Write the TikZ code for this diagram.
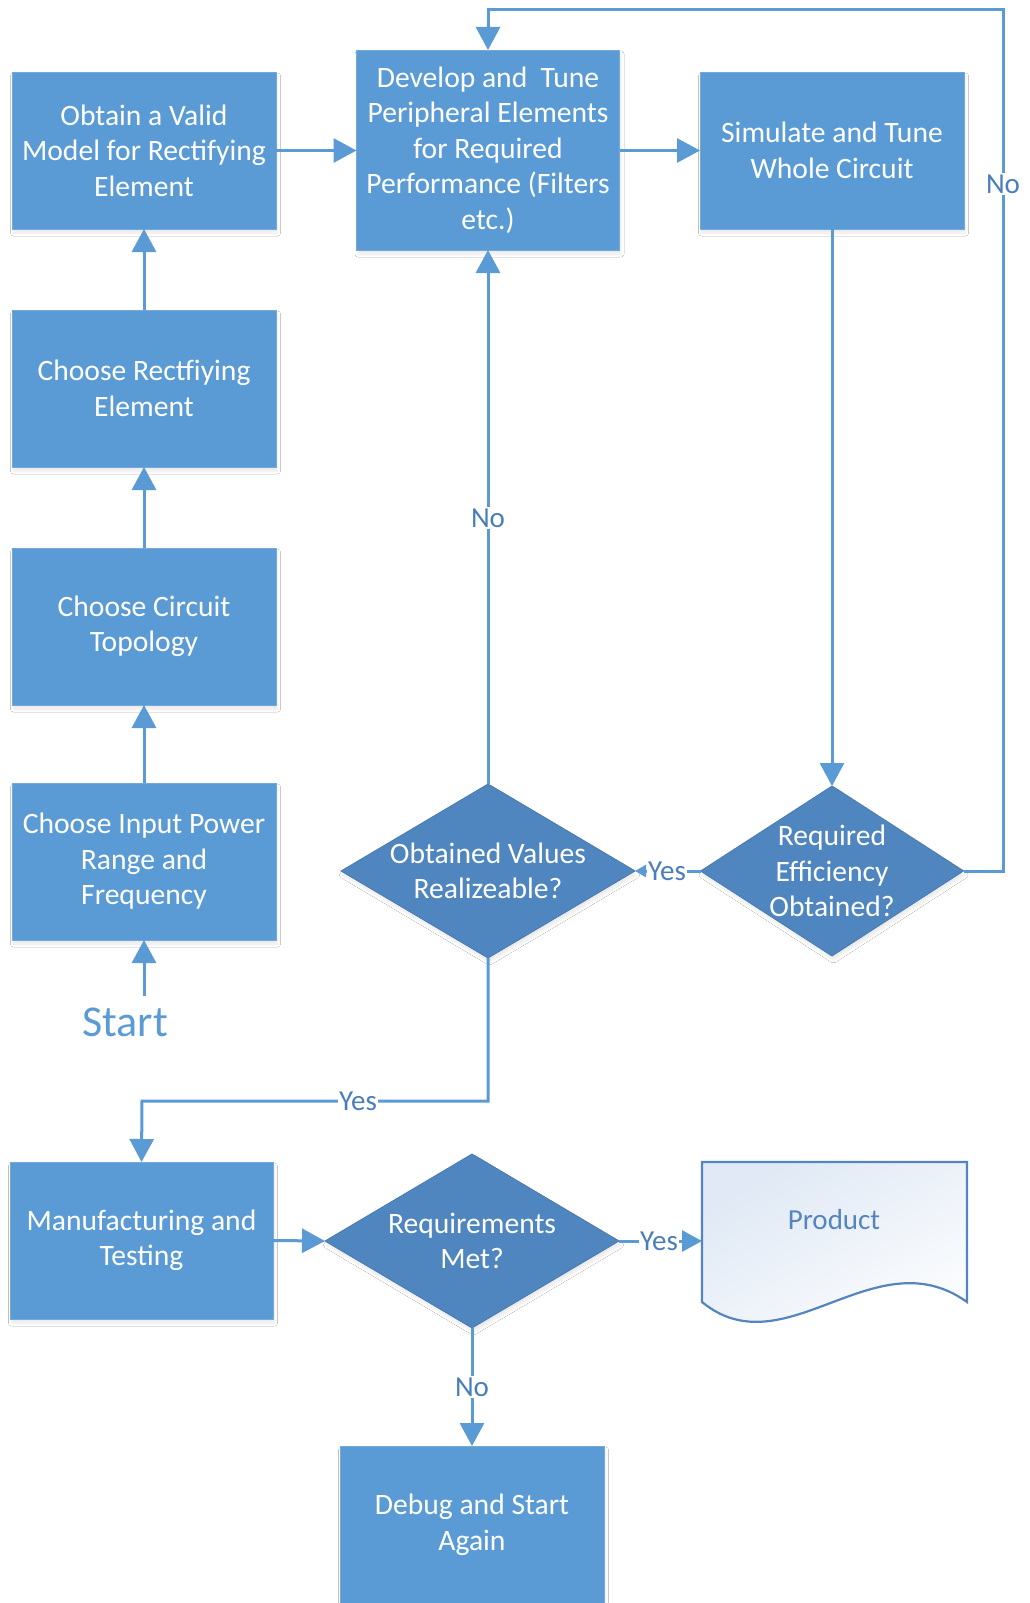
\documentclass[tikz,border=0pt]{standalone}
\usepackage{fontspec}
\setmainfont{Carlito}
\usetikzlibrary{arrows.meta,shapes.geometric,shadows.blur}
\definecolor{boxblue}{HTML}{5B9BD5}
\definecolor{diablue}{HTML}{4F86BF}
\definecolor{lineblue}{HTML}{5B9BD5}
\definecolor{lblblue}{HTML}{4A7EBB}
\definecolor{docline}{HTML}{5585BE}
\definecolor{docfill}{HTML}{E0E9F5}

\begin{document}
\begin{tikzpicture}[x=1pt,y=-1pt,
  txt/.style={font=\fontsize{29.6}{35.5}\selectfont},
  soft/.style={blur shadow={shadow xshift=1.5pt,shadow yshift=-4pt,shadow opacity=9,
    shadow blur radius=3pt,shadow blur steps=8}},
  stepbox/.style={rectangle,fill=boxblue,draw=boxblue!85!white,line width=0.8pt,
    minimum width=264pt,minimum height=157pt,inner sep=0pt,outer sep=0pt,
    text=white,align=center,txt,soft},
  decision/.style={diamond,fill=diablue,draw=diablue!92!black,line width=0.8pt,
    inner sep=0pt,outer sep=0pt,soft},
  dtext/.style={text=white,align=center,txt},
  conn/.style={draw=lineblue,line width=3pt,-{Triangle[length=23pt,width=24pt]}},
  smallconn/.style={draw=lineblue,line width=3pt,-{Triangle[length=11pt,width=12pt]}},
  midconn/.style={draw=lineblue,line width=3pt,-{Triangle[length=20pt,width=21pt]}},
  lbl/.style={fill=white,text=lblblue,inner sep=1.5pt,font=\fontsize{29}{34}\selectfont},
]
% page
\fill[white] (0,0) rectangle (1030,1603);
\useasboundingbox (0,0) rectangle (1030,1603);

% left column of steps
\node[stepbox] (a) at (144,150.5) {Obtain a Valid\\Model for Rectifying\\Element};
\node[stepbox] (b) at (144,388.5) {Choose Rectfiying\\Element};
\node[stepbox] (c) at (144,626.5) {Choose Circuit\\Topology};
\node[stepbox] (d) at (144,861.5) {Choose Input Power\\Range and\\Frequency};
\node[text=boxblue,font=\fontsize{44}{52}\selectfont] (start) at (125,1022) {Start};
\coordinate (s0) at (144,996);

% design loop
\node[stepbox,minimum width=263pt,minimum height=200pt] (dev) at (488,150)
  {Develop and~ Tune\\Peripheral Elements\\for Required\\Performance (Filters\\etc.)};
\node[stepbox] (sim) at (832,150.5) {Simulate and Tune\\Whole Circuit};

\node[decision,minimum width=294pt,minimum height=174pt] (obt) at (488,871) {};
\node[dtext] (obtt) at (obt) {Obtained Values\\Realizeable?};
\node[decision,minimum width=263pt,minimum height=170pt] (eff) at (832,871) {};
\node[dtext] (efft) at (eff) {Required\\Efficiency\\Obtained?};

% build and test
\node[stepbox,minimum width=263pt] (man) at (141.5,1240.5) {Manufacturing and\\Testing};
\node[decision,minimum width=294pt,minimum height=174pt] (req) at (472,1241) {};
\node[dtext] (reqt) at (req) {Requirements\\Met?};
\node[stepbox] (dbg) at (472,1524.5) {Debug and Start\\Again};

% product document
\shade[top color=docfill,bottom color=white,shading angle=30,draw=docline,line width=2.2pt]
  (702,1162) -- (967,1162) -- (967,1302)
  .. controls (875,1236) and (785,1370) .. (702,1302) -- cycle;
\node[text=docline,font=\fontsize{29}{34}\selectfont] (prod) at (834,1220) {Product};
\coordinate (prodw) at (702,1241);

% bends
\coordinate (fb) at (1003,10);
\coordinate (ybend) at (142,1101);

% connectors
\draw[conn] (s0) -- (d.south);
\draw[conn] (d.north) -- (c.south);
\draw[conn] (c.north) -- (b.south);
\draw[conn] (b.north) -- (a.south);
\draw[conn] (a.east) -- (a.east -| dev.west);
\draw[conn] (dev.east |- sim.west) -- (sim.west);
\draw[conn] (sim.south) -- (eff.north);
\draw[smallconn] (eff.west) -- (obt.east);
\draw[conn] (obt.north) -- (dev.south);
\draw[conn] (eff.east) -| (fb) -| (dev.north);
\draw[conn] (obt.south) |- (ybend) -- (man.north);
\draw[conn] (man.east) -- (req.west);
\draw[midconn] (req.east) -- (prodw);
\draw[conn] (req.south) -- (dbg.north);

% connector labels
\node[lbl] (l1) at (667,871) {Yes};
\node[lbl] (l2) at (488,518) {No};
\node[lbl] (l3) at (1003,184) {No};
\node[lbl] (l4) at (358,1101) {Yes};
\node[lbl] (l5) at (659,1241) {Yes};
\node[lbl] (l6) at (472,1387) {No};
\end{tikzpicture}
\end{document}
